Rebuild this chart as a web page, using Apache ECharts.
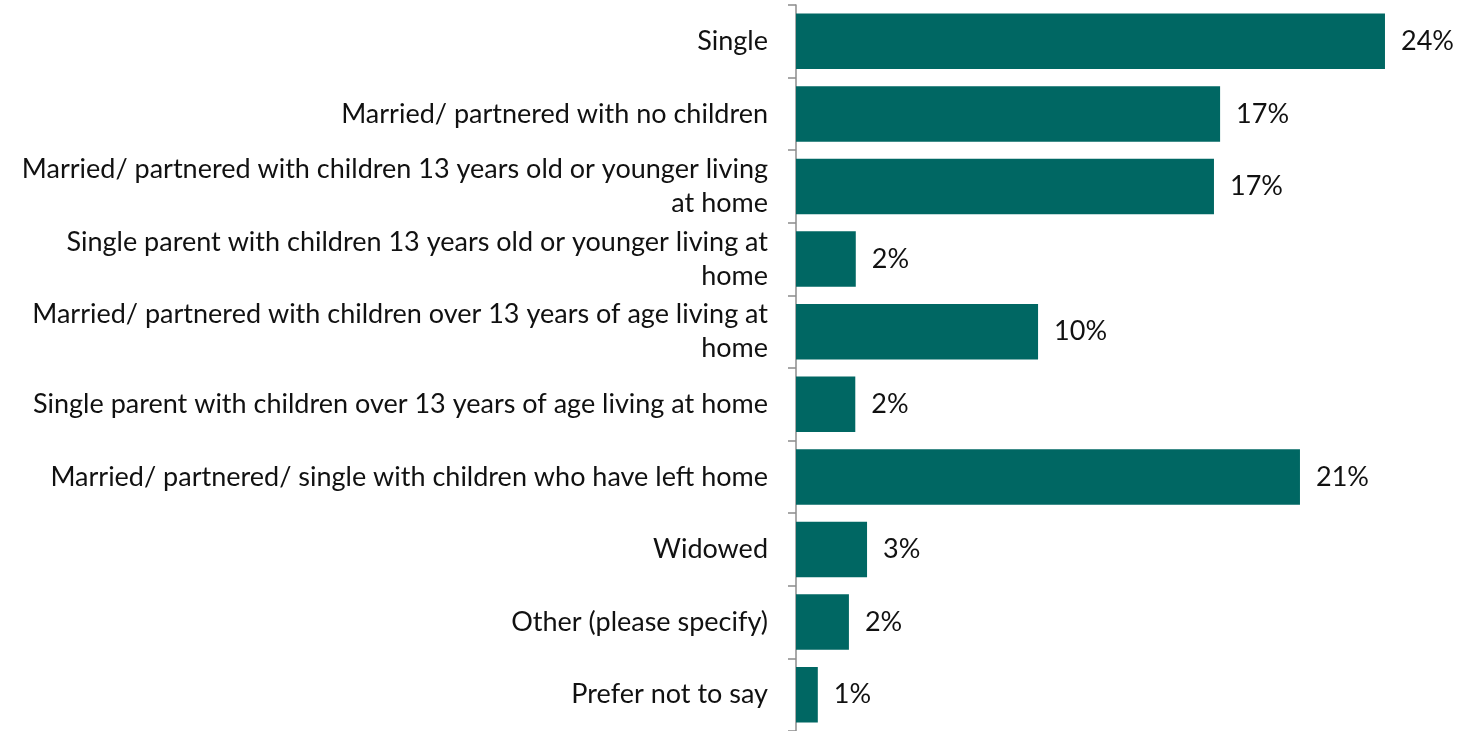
<!DOCTYPE html>
<html>
<head>
<meta charset="utf-8">
<style>
  html, body { margin: 0; padding: 0; background: #ffffff; }
  #chart { width: 1463px; height: 731px; }
</style>
<script src="https://cdn.jsdelivr.net/npm/echarts@6/dist/echarts.min.js"></script>
</head>
<body>
<div id="chart"></div>
<script>
// Household situation categories (line breaks as the labels wrap)
const categories = [
  'Single',
  'Married/ partnered with no children',
  'Married/ partnered with children 13 years old or younger living\nat home',
  'Single parent with children 13 years old or younger living at\nhome',
  'Married/ partnered with children over 13 years of age living at\nhome',
  'Single parent with children over 13 years of age living at home',
  'Married/ partnered/ single with children who have left home',
  'Widowed',
  'Other (please specify)',
  'Prefer not to say'
];

// Share of respondents, percent
const shares = [24.04, 17.31, 17.06, 2.44, 9.88, 2.42, 20.57, 2.90, 2.16, 0.89];

const FONT = 'Lato, "Open Sans", sans-serif';

const chart = echarts.init(document.getElementById('chart'), null, { renderer: 'canvas' });

chart.setOption({
  animation: false,
  backgroundColor: '#ffffff',
  grid: { left: 796, top: 5, width: 661.5, height: 728, containLabel: false },
  xAxis: {
    type: 'value',
    min: 0,
    max: 27,
    show: false
  },
  yAxis: {
    type: 'category',
    data: categories,
    inverse: true,
    axisLine: { show: true, lineStyle: { color: '#8c8c8c', width: 1.5 } },
    axisTick: { show: true, length: 8, lineStyle: { color: '#8c8c8c', width: 1.5 } },
    axisLabel: {
      margin: 28,
      color: '#111111',
      fontFamily: FONT,
      fontSize: 27,
      lineHeight: 34,
      align: 'right'
    },
    splitLine: { show: false }
  },
  series: [{
    type: 'bar',
    data: shares,
    barCategoryGap: '23.5%',
    itemStyle: { color: '#006763' },
    label: {
      show: true,
      position: 'right',
      distance: 16,
      color: '#111111',
      fontFamily: FONT,
      fontSize: 27,
      formatter: p => Math.round(p.value) + '%'
    }
  }]
});
</script>
</body>
</html>
